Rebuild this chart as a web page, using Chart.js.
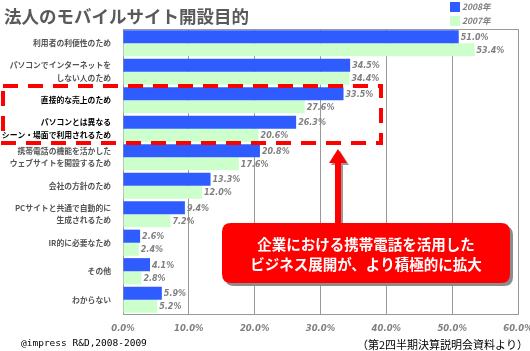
<!DOCTYPE html>
<html>
<head>
<meta charset="utf-8">
<script src="https://cdn.jsdelivr.net/npm/chart.js@4"></script>
<style>
  html, body { margin: 0; padding: 0; background: #fff; }
  #wrap { width: 530px; height: 351px; position: relative; }
</style>
</head>
<body>
<div id="wrap"><canvas id="myChart" width="530" height="351"></canvas></div>
<script>
var categories = [
    '利用者の利便性のため',
    ['パソコンでインターネットを', 'しない人のため'],
    '直接的な売上のため',
    ['パソコンとは異なる', 'シーン・場面で利用されるため'],
    ['携帯電話の機能を活かした', 'ウェブサイトを開設するため'],
    '会社の方針のため',
    ['PCサイトと共通で自動的に', '生成されるため'],
    'IR的に必要なため',
    'その他',
    'わからない'
];
var seriesNames = ['2008年', '2007年'];
var values2008 = [51.0, 34.5, 33.5, 26.3, 20.8, 13.3, 9.4, 2.6, 4.1, 5.9];
var values2007 = [53.4, 34.4, 27.6, 20.6, 17.6, 12.0, 7.2, 2.4, 2.8, 5.2];
var highlighted = [2, 3];
var xTicks = [0, 10, 20, 30, 40, 50, 60];
var titleText = '法人のモバイルサイト開設目的';
var calloutLines = ['企業における携帯電話を活用した', 'ビジネス展開が、より積極的に拡大'];
var footLeft = '@impress R&D,2008-2009';
var footRight = '（第2四半期決算説明会資料より）';

var JP = '"Noto Sans CJK JP", sans-serif';
var colors = ['#2f5cff', '#ccffcc'];

function roundRect(ctx, x, y, w, h, r) {
    ctx.beginPath();
    ctx.moveTo(x + r, y);
    ctx.lineTo(x + w - r, y);
    ctx.quadraticCurveTo(x + w, y, x + w, y + r);
    ctx.lineTo(x + w, y + h - r);
    ctx.quadraticCurveTo(x + w, y + h, x + w - r, y + h);
    ctx.lineTo(x + r, y + h);
    ctx.quadraticCurveTo(x, y + h, x, y + h - r);
    ctx.lineTo(x, y + r);
    ctx.quadraticCurveTo(x, y, x + r, y);
    ctx.closePath();
}

var decor = {
    id: 'decor',
    afterDatasetsDraw: function (chart) {
        var ctx = chart.ctx;
        var area = chart.chartArea;
        var ys = chart.scales.y;
        ctx.save();

        // plot frame top
        ctx.strokeStyle = '#999';
        ctx.lineWidth = 1;
        ctx.beginPath();
        ctx.moveTo(area.left, area.top + 0.5);
        ctx.lineTo(area.right, area.top + 0.5);
        ctx.stroke();

        // value labels
        ctx.font = 'italic bold 8px "DejaVu Sans", sans-serif';
        ctx.fillStyle = '#808080';
        ctx.textBaseline = 'middle';
        ctx.textAlign = 'left';
        chart.data.datasets.forEach(function (ds, di) {
            chart.getDatasetMeta(di).data.forEach(function (bar, i) {
                ctx.fillText(ds.data[i].toFixed(1) + '%', bar.x + 2, bar.y + 1);
            });
        });

        // title
        ctx.font = 'bold 17.5px ' + JP;
        ctx.fillStyle = '#595959';
        ctx.textBaseline = 'middle';
        ctx.fillText(titleText, 4, 16);

        // legend
        ctx.font = 'italic bold 8.5px ' + JP;
        seriesNames.forEach(function (n, i) {
            var y = 2 + i * 14;
            ctx.fillStyle = colors[i];
            ctx.fillRect(450, y, 10, 10);
            ctx.fillStyle = '#808080';
            ctx.fillText(n, 462, y + 5);
        });

        // dashed highlight box around highlighted categories
        var step = ys.getPixelForValue(1) - ys.getPixelForValue(0);
        var top = ys.getPixelForValue(highlighted[0]) - step / 2;
        var bot = ys.getPixelForValue(highlighted[highlighted.length - 1]) + step / 2;
        ctx.strokeStyle = '#ff0000';
        ctx.lineWidth = 4;
        ctx.setLineDash([15, 10]);
        ctx.strokeRect(3, top, 378, bot - top);
        ctx.setLineDash([]);

        // arrow with shadow
        [['#999', 2], ['#ff0000', 0]].forEach(function (s) {
            var o = s[1];
            ctx.fillStyle = s[0];
            ctx.fillRect(335 + o, 161 + o, 6, 62);
            ctx.beginPath();
            ctx.moveTo(329 + o, 163 + o);
            ctx.lineTo(347 + o, 163 + o);
            ctx.lineTo(338 + o, 149 + o);
            ctx.closePath();
            ctx.fill();
        });

        // callout box
        ctx.fillStyle = '#8c8c8c';
        roundRect(ctx, 225, 226, 288, 60, 9);
        ctx.fill();
        ctx.fillStyle = '#ff0000';
        roundRect(ctx, 222, 223, 288, 60, 9);
        ctx.fill();
        ctx.fillStyle = '#fff';
        ctx.font = 'bold 14.5px ' + JP;
        ctx.textAlign = 'center';
        ctx.fillText(calloutLines[0], 366, 244);
        ctx.fillText(calloutLines[1], 366, 264);

        // footers
        ctx.fillStyle = '#000';
        ctx.textAlign = 'left';
        ctx.font = '9.5px "DejaVu Sans Mono", monospace';
        ctx.fillText(footLeft, 21, 344);
        ctx.textAlign = 'right';
        ctx.font = '11px ' + JP;
        ctx.fillText(footRight, 528, 345);
        ctx.restore();
    }
};

function createChart() {
    var ctx = document.getElementById('myChart').getContext('2d');
    new Chart(ctx, {
        type: 'bar',
        data: {
            labels: categories,
            datasets: [
                { label: seriesNames[0], data: values2008, backgroundColor: colors[0] },
                { label: seriesNames[1], data: values2007, backgroundColor: colors[1] }
            ]
        },
        options: {
            indexAxis: 'y',
            responsive: false,
            animation: false,
            layout: { padding: { top: 29, right: 12, left: 0, bottom: 0 } },
            categoryPercentage: 0.92,
            barPercentage: 1.0,
            plugins: { legend: { display: false }, tooltip: { enabled: false } },
            scales: {
                x: {
                    min: 0,
                    max: 60,
                    afterFit: function (s) {
                        s.height = 37;
                        s.paddingLeft = 0;
                        s.paddingRight = 0;
                    },
                    afterBuildTicks: function (s) {
                        s.ticks = xTicks.map(function (v) { return { value: v }; });
                    },
                    grid: { color: '#999', drawTicks: false },
                    border: { color: '#999' },
                    ticks: {
                        padding: 10,
                        color: '#808080',
                        font: { family: '"DejaVu Sans", sans-serif', size: 8.5, style: 'italic', weight: 'bold' },
                        callback: function (v) { return Number(v).toFixed(1) + '%'; }
                    }
                },
                y: {
                    afterFit: function (s) {
                        s.width = 123;
                        s.paddingTop = 0;
                        s.paddingBottom = 0;
                    },
                    grid: { display: false },
                    border: { color: '#999' },
                    ticks: {
                        padding: 4,
                        color: function (c) {
                            return highlighted.indexOf(c.index) >= 0 ? '#000' : '#555';
                        },
                        font: { family: JP, size: 7.8, weight: 'bold', lineHeight: 1.6 }
                    }
                }
            }
        },
        plugins: [decor]
    });
}
createChart();
</script>
</body>
</html>
